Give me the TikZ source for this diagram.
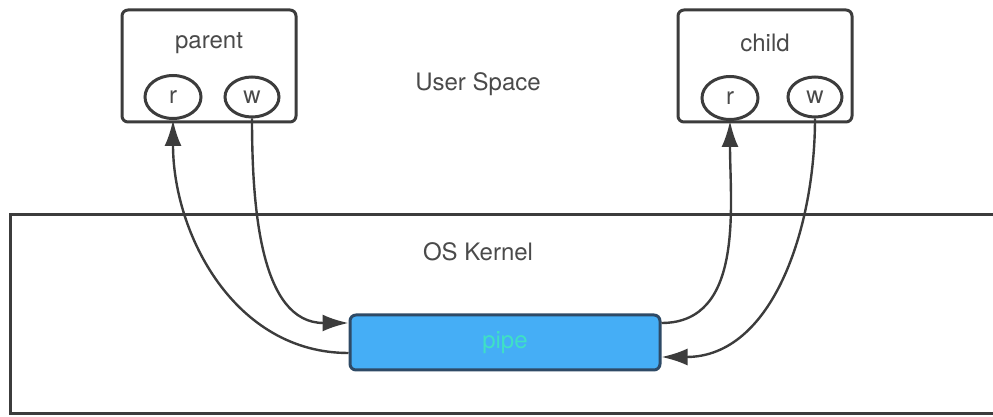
\documentclass[tikz,border=0pt]{standalone}
\usepackage{fontspec}
\setmainfont{TeX Gyre Heros}
\usepackage{xcolor}
\usetikzlibrary{shapes.geometric,arrows.meta}

\definecolor{linegray}{HTML}{3C3C3C}
\definecolor{textgray}{HTML}{4A4A4A}
\definecolor{pipeblue}{HTML}{45AEF6}
\definecolor{pipeedge}{HTML}{2E4A66}
\definecolor{pipetext}{HTML}{3FE0C5}

\begin{document}
\begin{tikzpicture}[x=0.5pt,y=-0.5pt,line width=1.5pt,color=linegray,
        proc/.style={draw,rounded corners=3pt,minimum width=87pt,minimum height=56pt,inner sep=0pt},
        fd/.style={draw,ellipse,inner sep=0pt,text=textgray,font=\fontsize{12}{14}\selectfont},
        lbl/.style={text=textgray,font=\fontsize{12}{14}\selectfont},
        flow/.style={line width=1.2pt,-{Latex[length=13pt,width=8.5pt]}}]
                \useasboundingbox (0,0) rectangle (993,417);
                \clip (0,0) rectangle (993,417);

                \draw (1010,215) -- (10,215) -- (10,414) -- (1010,414);
                \node[lbl] (kernellbl) at (478,252) {OS Kernel};
                \node[lbl] (userlbl) at (478,84) {User Space};

                \node[proc] (parent) at (209,66) {};
                \node[proc] (child) at (765,66) {};
                \node[lbl] (parentlbl) at (209,43) {parent};
                \node[lbl] (childlbl) at (765,43) {child};

                \node[fd,minimum width=28pt,minimum height=21.5pt] (pr) at (173,97) {r};
                \node[fd,minimum width=27pt,minimum height=20pt] (pw) at (252,97) {w};
                \node[fd,minimum width=28pt,minimum height=21.5pt] (cr) at (730,98) {r};
                \node[fd,minimum width=27pt,minimum height=20pt] (cw) at (815,97) {w};

                \node[draw=pipeedge,fill=pipeblue,rounded corners=3pt,minimum width=155pt,minimum height=27.5pt,
                        text=pipetext,font=\fontsize{12}{14}\selectfont] (pipe) at (505,342.5) {pipe};

                \draw[flow] ([yshift=-5.25pt]pipe.west) to[out=180,in=-90] (pr.south);
                \draw[flow] (pw.south) to[out=-90,in=180] ([yshift=9.75pt]pipe.west);
                \draw[flow] ([yshift=9.75pt]pipe.east) to[out=0,in=-90] (cr.south);
                \draw[flow] (cw.south) to[out=-90,in=0] ([yshift=-7.25pt]pipe.east);
\end{tikzpicture}
\end{document}
